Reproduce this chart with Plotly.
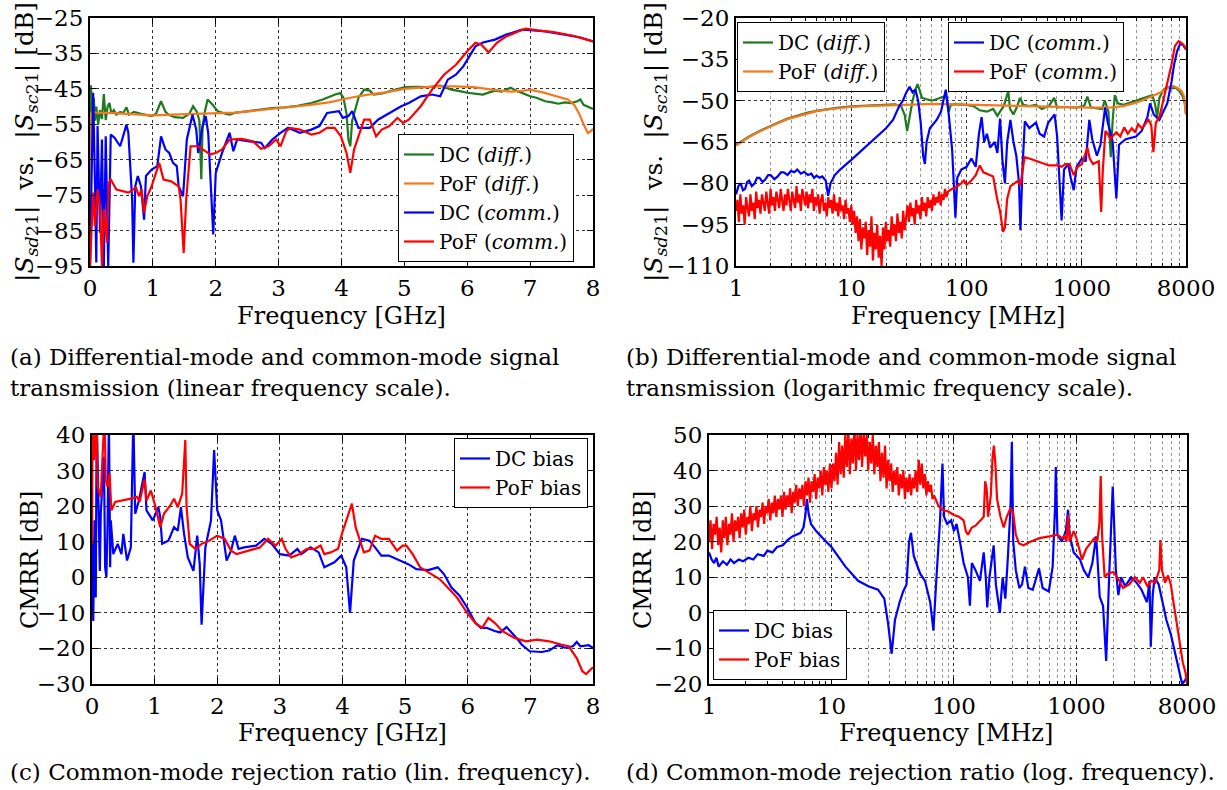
import plotly.graph_objects as go

# ---------------- DATA ----------------
# (a) linear frequency [GHz] vs dB  -> (freq, value) pairs
A_DC_DIFF = [(0.0, -60), (0.015, -44), (0.03, -50), (0.045, -52), (0.06, -47.5), (0.08, -54), (0.1, -50),
             (0.13, -55), (0.16, -51), (0.19, -53.5), (0.22, -46.5), (0.25, -53.8), (0.28, -50), (0.31, -49),
             (0.34, -52), (0.38, -51), (0.42, -52.3), (0.48, -51.5), (0.53, -51.8), (0.58, -50.2), (0.62, -52.3),
             (0.7, -51.5), (0.8, -52), (0.9, -52.3), (0.98, -52.7), (1.05, -52), (1.13, -48.5), (1.2, -51.5),
             (1.25, -52.3), (1.35, -53), (1.48, -53.2), (1.58, -52), (1.64, -49.9), (1.7, -51.5), (1.74, -54),
             (1.77, -70.5), (1.79, -56), (1.82, -52), (1.87, -48), (1.95, -49.5), (2.03, -51.3), (2.15, -52),
             (2.22, -52.3), (2.3, -51.8), (2.5, -51.3), (2.7, -50.8), (2.9, -50.4), (3.1, -50.2), (3.3, -49.8),
             (3.52, -49), (3.7, -48), (3.9, -46.6), (3.98, -46.2), (4.03, -47.5), (4.08, -52), (4.11, -59.3),
             (4.14, -61.2), (4.17, -54), (4.2, -51.8), (4.27, -47.5), (4.36, -45.2), (4.45, -45.5), (4.51, -46.6),
             (4.65, -46.3), (4.76, -45.7), (4.9, -45), (5.01, -44.5), (5.2, -44.4), (5.38, -44.5), (5.57, -44.1),
             (5.75, -45.2), (5.9, -45.7), (6.0, -46.1), (6.15, -46.4), (6.25, -46.6), (6.35, -46), (6.44, -45.5),
             (6.55, -45.8), (6.69, -44.7), (6.78, -45.5), (6.9, -46.5), (7.0, -47.1), (7.1, -47.5), (7.24, -48.5),
             (7.35, -48.8), (7.45, -49.2), (7.55, -48.8), (7.65, -49), (7.75, -48.5), (7.8, -48), (7.85, -49.5),
             (7.92, -50), (8.0, -50.7)]
A_POF_DIFF = [(0.0, -95), (0.005, -70), (0.01, -52), (0.03, -51.5), (0.1, -51.7), (0.3, -51.8), (0.5, -52),
              (0.8, -52.3), (1.0, -52.5), (1.3, -52.3), (1.6, -52.1), (2.0, -52), (2.3, -51.7), (2.6, -51.2),
              (2.9, -50.7), (3.2, -50.2), (3.5, -49.5), (3.8, -48.8), (4.0, -48), (4.2, -47.3), (4.4, -46.7),
              (4.7, -46), (5.0, -45), (5.3, -44.6), (5.5, -44.3), (5.8, -44.3), (6.1, -44.5), (6.4, -45.2),
              (6.7, -45.8), (6.9, -45.5), (7.0, -45.2), (7.2, -46), (7.4, -47), (7.6, -48), (7.7, -49.5),
              (7.78, -52), (7.85, -55), (7.92, -57.5), (7.96, -57), (8.0, -56.3)]
A_DC_COMM = [(0.0, -95), (0.05, -46.1), (0.08, -72.5), (0.1, -94), (0.12, -55.5), (0.16, -85.6), (0.19, -59.3),
             (0.22, -95), (0.25, -58.4), (0.29, -95), (0.33, -57.9), (0.39, -58.8), (0.48, -61.2), (0.55, -57.4),
             (0.58, -55.1), (0.61, -57.4), (0.67, -76.2), (0.69, -94.1), (0.72, -72.5), (0.76, -69.6),
             (0.81, -72.5), (0.86, -81.9), (0.89, -69.6), (0.98, -67.8), (1.07, -66.8), (1.13, -58.4),
             (1.2, -62.1), (1.26, -63.1), (1.32, -65.9), (1.38, -66.8), (1.41, -72.5), (1.48, -75.3),
             (1.54, -59.3), (1.63, -52.3), (1.69, -56.5), (1.72, -63.1), (1.79, -55.5), (1.84, -52.7),
             (1.88, -57.4), (1.96, -86.1), (2.0, -68.7), (2.1, -63.1), (2.22, -57.4), (2.28, -62.6),
             (2.34, -59.3), (2.53, -59.8), (2.72, -60.2), (2.78, -61.7), (2.9, -59.3), (3.03, -57.4),
             (3.15, -56), (3.34, -57.4), (3.52, -56.5), (3.65, -55.5), (3.77, -51.8), (3.96, -51.3),
             (4.02, -53.2), (4.11, -52.7), (4.17, -51.3), (4.27, -56), (4.45, -56), (4.58, -53.7), (4.76, -51.8),
             (4.95, -49.9), (5.07, -49), (5.26, -47.1), (5.44, -46.6), (5.57, -47.1), (5.69, -42.4), (5.82, -41),
             (5.94, -38.6), (6.13, -33), (6.25, -31.9), (6.44, -31.1), (6.62, -29.7), (6.87, -28.3),
             (7.06, -28.5), (7.24, -28.8), (7.55, -29.7), (7.8, -30.5), (8.0, -31.6)]
A_POF_COMM = [(0.0, -95), (0.02, -85.6), (0.05, -74.3), (0.08, -83.7), (0.12, -73.4), (0.16, -78.1), (0.19, -95),
              (0.22, -79), (0.27, -88.4), (0.3, -71.5), (0.33, -70.6), (0.42, -73.4), (0.61, -74.3), (0.73, -72.9),
              (0.78, -75.3), (0.82, -73.4), (0.86, -80), (0.91, -75.3), (0.98, -72.5), (1.1, -65.9), (1.17, -70.6),
              (1.29, -71.1), (1.41, -72.5), (1.44, -76.2), (1.49, -91.3), (1.53, -76.2), (1.6, -61.2),
              (1.72, -61.2), (1.91, -63.5), (2.0, -63.1), (2.1, -62.1), (2.22, -59.3), (2.41, -59.1),
              (2.59, -59.8), (2.72, -61.9), (2.84, -61.2), (2.96, -59.3), (3.03, -61.2), (3.12, -57), (3.18, -56),
              (3.34, -56.5), (3.52, -57.9), (3.65, -57.4), (3.77, -56), (3.89, -56), (3.99, -58.4), (4.08, -63.1),
              (4.14, -68.7), (4.2, -62.1), (4.36, -53.7), (4.45, -53.7), (4.55, -58.4), (4.64, -56.5),
              (4.76, -55.5), (4.89, -53.2), (4.98, -54.6), (5.07, -53.7), (5.26, -49.9), (5.44, -45.2),
              (5.63, -41), (5.82, -38.2), (6.0, -34.4), (6.13, -32), (6.22, -32.5), (6.34, -34.7), (6.47, -32),
              (6.62, -30.2), (6.81, -28.8), (6.93, -28), (7.12, -28.5), (7.37, -29), (7.68, -30), (7.86, -30.9),
              (8.0, -31.6)]

# frequency points [MHz] of the dense, noisy low-frequency part of the PoF curves in (b) and (d)
NOISE_FREQ_MHZ = [1.000, 1.029, 1.059, 1.090, 1.122, 1.155, 1.189, 1.223, 1.259, 1.296,
                  1.334, 1.372, 1.413, 1.454, 1.496, 1.540, 1.585, 1.631, 1.679, 1.728,
                  1.778, 1.830, 1.884, 1.939, 1.995, 2.054, 2.113, 2.175, 2.239, 2.304,
                  2.371, 2.441, 2.512, 2.585, 2.661, 2.738, 2.818, 2.901, 2.985, 3.073,
                  3.162, 3.255, 3.350, 3.447, 3.548, 3.652, 3.758, 3.868, 3.981, 4.097,
                  4.217, 4.340, 4.467, 4.597, 4.732, 4.870, 5.012, 5.158, 5.309, 5.464,
                  5.623, 5.788, 5.957, 6.131, 6.310, 6.494, 6.683, 6.879, 7.079, 7.286,
                  7.499, 7.718, 7.943, 8.175, 8.414, 8.660, 8.913, 9.173, 9.441, 9.716,
                  10.00, 10.29, 10.59, 10.90, 11.22, 11.55, 11.89, 12.23, 12.59, 12.96,
                  13.34, 13.72, 14.13, 14.54, 14.96, 15.40, 15.85, 16.31, 16.79, 17.28,
                  17.78, 18.30, 18.84, 19.39, 19.95, 20.54, 21.13, 21.75, 22.39, 23.04,
                  23.71, 24.41, 25.12, 25.85, 26.61, 27.38, 28.18, 29.01, 29.85, 30.73,
                  31.62, 32.55, 33.50, 34.47, 35.48, 36.52, 37.58, 38.68, 39.81, 40.97,
                  42.17, 43.40, 44.67, 45.97, 47.32, 48.70, 50.12, 51.58, 53.09, 54.64,
                  56.23, 57.88, 59.57, 61.31, 63.10, 64.94, 66.83, 68.79]
B_POF_COMM_NOISE = [-90, -86, -94, -84, -91, -88, -95, -85, -89, -92,
                    -84, -90, -87, -93, -83, -89, -86, -91, -84, -88,
                    -90, -83, -87, -91, -82, -88, -85, -90, -83, -87,
                    -89, -82, -86, -90, -84, -88, -82, -87, -90, -83,
                    -86, -89, -81, -87, -84, -90, -82, -86, -88, -83,
                    -89, -84, -87, -82, -90, -85, -88, -84, -91, -86,
                    -84, -90, -87, -92, -85, -89, -86, -91, -84, -90,
                    -87, -92, -85, -90, -88, -93, -86, -91, -89, -94,
                    -88, -95, -90, -98, -92, -101, -93, -104, -96, -100,
                    -94, -106, -97, -103, -92, -108, -98, -104, -95, -107,
                    -99, -110, -96, -104, -94, -101, -97, -103, -92, -99,
                    -95, -101, -91, -98, -94, -100, -90, -97, -93, -88,
                    -94, -87, -92, -89, -95, -86, -91, -88, -93, -85,
                    -90, -87, -92, -85, -89, -86, -90, -84, -88, -85,
                    -87, -83, -88, -84, -86, -82, -85, -83]
B_POF_COMM_TAIL = [(75, -82), (80, -81.5), (90, -80), (95, -79), (100, -80.5), (110, -79), (120, -77),
                   (130, -73.5), (140, -76), (150, -76.5), (170, -77.5), (184, -85.6), (195, -90), (207, -97.6),
                   (215, -96), (225, -85.6), (240, -81), (260, -80), (281, -79), (293, -80.8), (305, -76),
                   (318, -70.5), (350, -71), (387, -71.7), (452, -72.5), (520, -73.5), (620, -73.5), (667, -74),
                   (720, -73), (780, -73), (850, -77), (920, -74), (1000, -73), (1060, -70), (1115, -67),
                   (1170, -71), (1250, -73), (1400, -72), (1470, -90.4), (1520, -75), (1600, -61), (1700, -62.5),
                   (1770, -64), (1880, -62.5), (1990, -61.5), (2150, -63), (2330, -59.7), (2500, -62),
                   (2710, -60), (2900, -61.5), (3070, -58.5), (3300, -60), (3480, -59), (3770, -56.7),
                   (4000, -59), (4170, -68.7), (4380, -58), (4700, -56), (5100, -49.5), (5530, -44),
                   (6000, -36.8), (6400, -30.2), (6890, -28.4), (7300, -29), (7700, -30), (8000, -31.4)]
B_DC_DIFF = [(1, -66), (1.3, -63), (1.6, -61), (1.9, -59.5), (2.3, -58), (2.8, -56.5), (3.5, -55.3), (4.2, -54.3),
             (5, -53.7), (6, -53.2), (7.5, -52.6), (10, -52.1), (15, -51.8), (20, -51.5), (24, -51.3), (27, -52),
             (29, -55), (30.5, -61), (32, -56), (34, -50), (36, -46), (37.5, -44), (39, -46), (41, -49),
             (45, -49.5), (50, -50), (57, -49.2), (64, -48.5), (67, -49), (70, -54), (73, -51.5), (80, -51.3),
             (100, -51.5), (115, -52), (130, -53.5), (150, -54), (170, -53), (185, -55.5), (195, -54), (210, -52),
             (230, -46.5), (238, -53), (255, -55), (275, -52), (290, -49), (310, -51.5), (350, -52), (400, -51.5),
             (450, -53), (520, -51.8), (575, -49), (610, -52.5), (700, -52.3), (900, -52.5), (1050, -51.8),
             (1115, -48.5), (1200, -52.5), (1500, -53), (1580, -50), (1700, -54), (1780, -70.5), (1850, -57),
             (1930, -48), (2050, -51), (2300, -51.5), (2700, -50.5), (3200, -49.5), (3700, -48.5), (4080, -48),
             (4300, -51), (4500, -56), (4700, -49), (5100, -46), (5500, -45), (6000, -45.5), (6500, -45.3),
             (7000, -46.5), (7500, -48.5), (7800, -51), (8000, -55)]
B_POF_DIFF = [(1, -66.3), (1.3, -63.2), (1.6, -61.2), (1.9, -59.7), (2.3, -58.2), (2.8, -56.7), (3.5, -55.5),
              (4.2, -54.5), (5, -53.8), (6, -53.3), (7.5, -52.7), (10, -52.2), (15, -51.9), (20, -51.8),
              (30, -51.5), (50, -51.2), (80, -51.4), (120, -51.6), (200, -51.9), (300, -52.1), (500, -52.2),
              (800, -52.4), (1200, -52.5), (1800, -52.4), (2300, -52), (2800, -51), (3300, -50), (4000, -48.5),
              (4800, -47), (5500, -45.5), (6200, -44.7), (6800, -45.5), (7300, -46.5), (7700, -48.5),
              (7900, -52), (8000, -55)]
B_DC_COMM = [(1, -84), (1.05, -81), (1.1, -80), (1.15, -82.5), (1.2, -82), (1.25, -79.5), (1.3, -79),
             (1.37, -81), (1.45, -80), (1.52, -78), (1.6, -78), (1.7, -79.5), (1.8, -78.5), (1.9, -77),
             (2.0, -77), (2.15, -78.5), (2.3, -77.5), (2.45, -76), (2.6, -76), (2.8, -77), (3.0, -75.5),
             (3.2, -76), (3.4, -75), (3.65, -76.5), (3.9, -75.8), (4.2, -77), (4.5, -76.5), (4.75, -78),
             (5.0, -77.2), (5.3, -78), (5.6, -77.5), (6.0, -79), (6.3, -84.5), (6.6, -80), (7.2, -77), (8, -75),
             (10, -71.5), (12, -68.5), (14, -66), (17, -63), (20, -60), (23, -57), (26, -52), (28, -50), (30, -47),
             (32, -45), (34, -47), (36, -46), (38, -50), (40, -58), (42, -70), (43.5, -73), (45, -65), (48, -60),
             (55, -57), (60, -54), (66, -46), (70, -55), (75, -68), (80, -92.5), (83, -78), (90, -75),
             (100, -74), (110, -71), (120, -74), (128, -62), (135, -56), (142, -65), (150, -62), (160, -67),
             (175, -65), (185, -69), (195, -56.5), (205, -72), (215, -80), (225, -65), (240, -57), (255, -65),
             (270, -70), (285, -80), (293, -97), (305, -75), (320, -57.5), (350, -60), (400, -58), (430, -62),
             (470, -63), (510, -58), (560, -56), (580, -55), (610, -63), (640, -80), (667, -93.5), (700, -75),
             (760, -73), (800, -78), (850, -82.5), (900, -74), (1000, -71), (1080, -72), (1160, -57),
             (1230, -64), (1350, -70), (1450, -66), (1590, -52.5), (1680, -58), (1850, -65), (1990, -85.5),
             (2100, -66), (2400, -64), (2950, -63), (3300, -61), (3700, -56), (3900, -51), (4200, -55),
             (4700, -57), (5500, -51), (6000, -43), (6300, -37), (6700, -32), (7100, -29.5), (7500, -29.7),
             (8000, -31.4)]

# (c) CMRR, linear frequency [GHz]
C_DC = [(0.0, 10.3), (0.02, -12.3), (0.04, 16), (0.06, -5.7), (0.075, 45), (0.1, 25.4), (0.125, 1.8),
        (0.14, 17.9), (0.16, 25.4), (0.19, 33.9), (0.21, 2.8), (0.23, 0), (0.25, 16), (0.27, 45), (0.29, 2.8),
        (0.3, 16), (0.34, 6.5), (0.41, 9.4), (0.47, 6.5), (0.5, 12.2), (0.56, 4.7), (0.62, 8.4), (0.66, 45),
        (0.69, 17.9), (0.75, 21.6), (0.84, 29.6), (0.87, 18.8), (0.97, 16), (1.06, 19.7), (1.09, 16.9),
        (1.12, 9.4), (1.22, 10.3), (1.31, 14.1), (1.37, 13.1), (1.42, 19.7), (1.47, 12.2), (1.53, 5.6),
        (1.62, 1.8), (1.68, 11.7), (1.72, 3.7), (1.75, -13.3), (1.81, 8.4), (1.9, 16), (1.95, 35.8), (2.0, 18.8),
        (2.06, 16), (2.15, 4.7), (2.22, 7.5), (2.28, 11.7), (2.34, 8), (2.43, 8.4), (2.62, 8.9), (2.75, 10.8),
        (2.87, 9.4), (3.0, 6.5), (3.15, 6.1), (3.28, 8), (3.34, 6.5), (3.49, 8.4), (3.62, 7), (3.71, 2.8),
        (3.87, 4.2), (3.98, 6.1), (4.06, 2.8), (4.12, -10), (4.18, 4.7), (4.31, 10.8), (4.43, 10.3),
        (4.52, 8.4), (4.62, 6.1), (4.74, 6.1), (4.93, 4.7), (5.05, 3.7), (5.18, 2.3), (5.37, 2), (5.52, 2.8),
        (5.62, 0.9), (5.74, -2.9), (5.87, -5.2), (5.99, -8.5), (6.12, -12.8), (6.21, -14.2), (6.3, -14.2),
        (6.43, -15.1), (6.52, -15.5), (6.62, -14), (6.7, -15.5), (6.8, -17.5), (6.86, -18.9), (6.99, -20.8),
        (7.18, -21), (7.3, -20.6), (7.43, -19.1), (7.55, -19.8), (7.68, -19.4), (7.74, -18.2), (7.8, -19.4),
        (7.93, -19.1), (8.0, -19.8)]
C_POF = [(0.0, 9.4), (0.01, 45), (0.04, 32.9), (0.075, 45), (0.09, 25.4), (0.14, 22.6), (0.17, 34.8), (0.2, 45),
         (0.22, 27.3), (0.25, 25.4), (0.28, 29.2), (0.31, 18.8), (0.37, 21.2), (0.5, 21.6), (0.62, 22.1),
         (0.72, 22.6), (0.76, 21.2), (0.84, 27.5), (0.87, 21.6), (0.94, 24.4), (1.0, 20.7), (1.09, 14.1),
         (1.15, 17.9), (1.25, 20.2), (1.31, 22.1), (1.37, 19.7), (1.44, 23.5), (1.49, 38.6), (1.51, 19.7),
         (1.56, 9.4), (1.65, 8), (1.75, 9.4), (1.87, 10.3), (2.0, 11.7), (2.12, 10.8), (2.22, 7.5), (2.31, 6.5),
         (2.5, 7.5), (2.68, 8.4), (2.81, 10.8), (2.93, 8.9), (3.03, 10.8), (3.09, 8), (3.18, 5.6), (3.31, 6.5),
         (3.43, 8), (3.56, 8), (3.65, 8.9), (3.71, 6.5), (3.81, 7), (3.93, 8), (3.99, 12.2), (4.09, 17.9),
         (4.15, 20.7), (4.21, 14.1), (4.34, 7), (4.43, 7.5), (4.52, 11.7), (4.62, 10.8), (4.74, 10.8),
         (4.87, 7.5), (4.96, 8.9), (5.02, 8.9), (5.12, 6.5), (5.24, 2.8), (5.43, 0.9), (5.55, -0.5),
         (5.68, -2.9), (5.83, -5.7), (5.99, -10), (6.12, -12.8), (6.23, -14.2), (6.33, -11.4), (6.43, -12.8),
         (6.55, -15.1), (6.74, -17), (6.93, -18), (7.11, -17.5), (7.3, -18), (7.49, -18.9), (7.61, -19.4),
         (7.74, -22.7), (7.83, -26.4), (7.89, -27.2), (7.96, -25.9), (8.0, -25.3)]

# (d) CMRR, logarithmic frequency [MHz]
D_POF_NOISE = [20, 26, 18, 25, 22, 27, 19, 24, 17, 26,
               21, 27, 19, 25, 22, 28, 20, 26, 23, 27,
               21, 28, 24, 29, 22, 27, 25, 30, 23, 28,
               26, 30, 24, 29, 27, 31, 25, 30, 28, 32,
               26, 31, 28, 33, 27, 32, 29, 33, 27, 34,
               29, 33, 30, 35, 28, 34, 31, 36, 30, 35,
               32, 36, 30, 37, 33, 38, 31, 37, 34, 39,
               32, 38, 35, 40, 33, 41, 36, 40, 34, 42,
               35, 42, 37, 45, 36, 48, 39, 47, 38, 50,
               41, 52, 39, 49, 42, 53, 40, 50, 43, 52,
               41, 51, 44, 50, 40, 48, 42, 50, 39, 47,
               41, 48, 37, 45, 38, 47, 35, 43, 37, 42,
               34, 40, 36, 41, 33, 39, 35, 40, 32, 38,
               34, 39, 33, 38, 35, 40, 34, 43, 36, 42,
               35, 39, 33, 37, 34, 36, 32, 33]
D_POF_TAIL = [(75, 30), (80, 29), (90, 28.5), (100, 27.5), (110, 27), (120, 26), (125, 23), (130, 22), (140, 24),
              (150, 24.5), (165, 26), (175, 27), (180, 37), (185, 35), (190, 27), (200, 33), (207, 44), (212, 47),
              (218, 42), (225, 32), (240, 27), (255, 24), (270, 27), (290, 29.5), (305, 28), (320, 22),
              (340, 19.5), (370, 19), (420, 20), (500, 21), (600, 21.5), (700, 22), (760, 21), (800, 21.5),
              (830, 20), (855, 27.5), (880, 20), (950, 23), (1000, 21), (1080, 17), (1110, 15), (1200, 18),
              (1300, 19.5), (1400, 21), (1480, 20), (1540, 25), (1580, 38.5), (1620, 22), (1700, 10), (1800, 11),
              (2000, 11.5), (2200, 9.5), (2400, 7), (2700, 8), (3000, 10), (3300, 8.5), (3500, 10), (3800, 7.5),
              (4100, 9), (4400, 8.5), (4750, 12), (4850, 20.5), (5000, 12), (5300, 8.5), (5600, 10.5),
              (5900, 8), (6200, 3), (6600, -3), (7000, -10), (7400, -14), (7800, -17), (8000, -20)]
D_DC = [(1, 17), (1.05, 15), (1.1, 14), (1.15, 15.5), (1.2, 13), (1.3, 14.5), (1.4, 13.5), (1.5, 15), (1.6, 14),
        (1.75, 15), (1.9, 14.5), (2.1, 15.5), (2.3, 15), (2.5, 16.5), (2.8, 16), (3.0, 17.5), (3.3, 17),
        (3.6, 18.5), (4.0, 19), (4.4, 20.5), (4.8, 21.5), (5.2, 22), (5.6, 22.5), (5.9, 24), (6.1, 27),
        (6.3, 32), (6.5, 28), (6.8, 25), (7.5, 23), (8.5, 21), (10, 18.5), (13, 13), (16.5, 9), (20, 7.5),
        (24, 6.5), (27, 4), (29, -3), (31, -11.5), (33, -2), (36, 3), (38.5, 6), (41, 8), (43, 20), (44.6, 22.5),
        (47, 16), (53, 11), (58, 9), (64, 3), (68, -5), (72, 10), (77, 26), (80.6, 42), (83, 27), (88, 25),
        (95, 26), (100, 23), (105, 25), (112, 20), (120, 14), (130, 10), (135, 2), (140, 14), (150, 12),
        (163, 9), (175, 17), (182, 10), (187, 1.5), (195, 10), (205, 15), (211, 19), (220, 8), (237, 0),
        (250, 10), (263, 4), (275, 15), (290, 30), (297, 48), (305, 20), (320, 12), (342, 7), (360, 8),
        (380, 13), (405, 7), (440, 6.5), (495, 12.5), (530, 7), (595, 6), (640, 13), (670, 30), (679, 41),
        (700, 22), (760, 20), (820, 23), (855, 29), (880, 22), (950, 17), (1070, 15), (1150, 12), (1250, 10),
        (1350, 14), (1450, 21.5), (1500, 12), (1550, 4.5), (1650, 2), (1750, -13.5), (1850, 10), (1980, 35.5),
        (2100, 12), (2200, 5), (2320, 10), (2500, 7.5), (2800, 10), (3100, 8.5), (3400, 6.5), (3770, 3),
        (3950, 9), (4050, -9.5), (4200, 5), (4350, 10), (4700, 8), (5050, 3), (5430, -2), (5900, -6),
        (6330, -10.5), (6800, -16), (7300, -20), (7700, -19), (8000, -18)]

LOG_TICKS = [1, 10, 100, 1000, 8000]
LOG_MINOR = [2, 3, 4, 5, 6, 7, 8, 9, 20, 30, 40, 50, 60, 70, 80, 90,
             200, 300, 400, 500, 600, 700, 800, 900, 2000, 3000, 4000, 5000, 6000, 7000]
A_YTICKS = [-95, -85, -75, -65, -55, -45, -35, -25]
B_YTICKS = [-110, -95, -80, -65, -50, -35, -20]

# ---------------- STYLE ----------------
W, H = 1227, 790
FONT = "DejaVu Serif"
GREEN, ORANGE, BLUE, RED = "#1f7a1f", "#f5781e", "#0000ff", "#ff0000"
LW = 2.2


def split(pairs):
    return [p[0] for p in pairs], [p[1] for p in pairs]


def px(x):
    return x / W


def py(y):
    return 1 - y / H


fig = go.Figure()


def add(pairs, color, name, xa, ya, legend):
    x, y = split(pairs)
    fig.add_trace(go.Scatter(x=x, y=y, mode="lines", name=name, line=dict(color=color, width=LW),
                             xaxis=xa, yaxis=ya, legend=legend, showlegend=True))


b_pof_comm = list(zip(NOISE_FREQ_MHZ, B_POF_COMM_NOISE)) + B_POF_COMM_TAIL
d_pof = list(zip(NOISE_FREQ_MHZ, D_POF_NOISE)) + D_POF_TAIL

add(A_DC_DIFF, GREEN, "DC (<i>diff.</i>)", "x", "y", "legend")
add(A_POF_DIFF, ORANGE, "PoF (<i>diff.</i>)", "x", "y", "legend")
add(A_DC_COMM, BLUE, "DC (<i>comm.</i>)", "x", "y", "legend")
add(A_POF_COMM, RED, "PoF (<i>comm.</i>)", "x", "y", "legend")

add(B_DC_DIFF, GREEN, "DC (<i>diff.</i>)", "x2", "y2", "legend2")
add(B_POF_DIFF, ORANGE, "PoF (<i>diff.</i>)", "x2", "y2", "legend2")
add(B_DC_COMM, BLUE, "DC (<i>comm.</i>)", "x2", "y2", "legend3")
add(b_pof_comm, RED, "PoF (<i>comm.</i>)", "x2", "y2", "legend3")

add(C_DC, BLUE, "DC bias", "x3", "y3", "legend4")
add(C_POF, RED, "PoF bias", "x3", "y3", "legend4")

add(D_DC, BLUE, "DC bias", "x4", "y4", "legend5")
add(d_pof, RED, "PoF bias", "x4", "y4", "legend5")

TICKFONT = dict(family=FONT, size=23, color="black")
base = dict(showline=True, linecolor="black", linewidth=2, mirror="ticks", ticks="inside", ticklen=6,
            tickcolor="black", tickwidth=1, tickfont=TICKFONT, showgrid=True, gridcolor="#333333",
            griddash="dot", gridwidth=1, zeroline=False, fixedrange=True, automargin=False)
logx = dict(type="log", range=[0, 3.90309], tickvals=LOG_TICKS, ticktext=[str(v) for v in LOG_TICKS],
            minor=dict(tickvals=LOG_MINOR, showgrid=True, gridcolor="#999999", griddash="dot",
                       ticks="inside", ticklen=3, tickcolor="black"))

DOM = {
    "a": ([90, 593], [18, 266]),
    "b": ([736, 1186], [18, 266]),
    "c": ([92, 593], [435, 684]),
    "d": ([709, 1187], [435, 684]),
}


def dom(k):
    (x0, x1), (y0, y1) = DOM[k]
    return [px(x0), px(x1)], [py(y1), py(y0)]


dxa, dya = dom("a")
dxb, dyb = dom("b")
dxc, dyc = dom("c")
dxd, dyd = dom("d")

fig.update_layout(
    width=W, height=H, margin=dict(l=0, r=0, t=0, b=0, pad=0, autoexpand=False),
    paper_bgcolor="white", plot_bgcolor="white",
    font=dict(family=FONT, color="black"),
    xaxis=dict(base, domain=dxa, range=[0, 8], dtick=1, tick0=0, anchor="y"),
    yaxis=dict(base, domain=dya, range=[-95, -25], tickvals=A_YTICKS, anchor="x"),
    xaxis2=dict(base, **logx, domain=dxb, anchor="y2"),
    yaxis2=dict(base, domain=dyb, range=[-110, -20], tickvals=B_YTICKS, anchor="x2"),
    xaxis3=dict(base, domain=dxc, range=[0, 8], dtick=1, tick0=0, anchor="y3"),
    yaxis3=dict(base, domain=dyc, range=[-30, 40], dtick=10, tick0=0, anchor="x3"),
    xaxis4=dict(base, **logx, domain=dxd, anchor="y4"),
    yaxis4=dict(base, domain=dyd, range=[-20, 50], dtick=10, tick0=0, anchor="x4"),
)

LEGFONT = dict(family=FONT, size=20, color="black")
leg = dict(bgcolor="white", bordercolor="black", borderwidth=1, font=LEGFONT, itemwidth=30,
           tracegroupgap=0, traceorder="normal")
fig.update_layout(
    legend=dict(leg, x=px(574), y=py(262), xanchor="right", yanchor="bottom"),
    legend2=dict(leg, x=px(737), y=py(22), xanchor="left", yanchor="top"),
    legend3=dict(leg, x=px(948), y=py(22), xanchor="left", yanchor="top"),
    legend4=dict(leg, x=px(588), y=py(438), xanchor="right", yanchor="top"),
    legend5=dict(leg, x=px(713), y=py(680), xanchor="left", yanchor="bottom"),
)

TITLEFONT = dict(family=FONT, size=24, color="black")
YTITLEFONT = dict(family=FONT, size=25, color="black")
CAPFONT = dict(family=FONT, size=23, color="black")
ann = []


def text(x, y, s, font, xanchor="center", angle=0):
    ann.append(dict(x=px(x), y=py(y), xref="paper", yref="paper", text=s, showarrow=False, font=font,
                    xanchor=xanchor, yanchor="middle", textangle=angle))


YT = ("|<i>S</i><sub><i>sd</i>21</sub>|&nbsp; vs. &nbsp;"
      "|<i>S</i><sub><i>sc</i>21</sub>| [dB]")
text(341, 316, "Frequency [GHz]", TITLEFONT)
text(958, 316, "Frequency [MHz]", TITLEFONT)
text(342, 733, "Frequency [GHz]", TITLEFONT)
text(946, 733, "Frequency [MHz]", TITLEFONT)
text(26, 142, YT, YTITLEFONT, angle=-90)
text(655, 142, YT, YTITLEFONT, angle=-90)
text(30, 560, "CMRR [dB]", TITLEFONT, angle=-90)
text(643, 560, "CMRR [dB]", TITLEFONT, angle=-90)

text(8, 357, "(a) Differential-mode and common-mode signal", CAPFONT, "left")
text(8, 388, "transmission (linear frequency scale).", CAPFONT, "left")
text(624, 357, "(b) Differential-mode and common-mode signal", CAPFONT, "left")
text(624, 388, "transmission (logarithmic frequency scale).", CAPFONT, "left")
text(8, 772, "(c) Common-mode rejection ratio (lin. frequency).", CAPFONT, "left")
text(624, 772, "(d) Common-mode rejection ratio (log. frequency).", CAPFONT, "left")

fig.update_layout(annotations=ann)
fig.write_html("out.html", config={"displayModeBar": False},
               post_script="document.body.style.margin='0px';document.body.style.overflow='hidden';")
